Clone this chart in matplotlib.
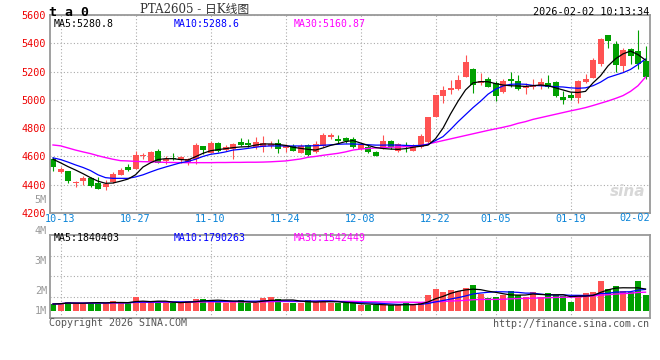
import numpy as np
import pandas as pd
import matplotlib
matplotlib.use("Agg")
import matplotlib.pyplot as plt

# PTA2605 daily candles, 2025-10-10 .. 2026-02-02
opens = [4580, 4490, 4495, 4415, 4424, 4448, 4410, 4382, 4419, 4471,
         4523, 4514, 4603, 4570, 4641, 4565, 4586, 4575, 4561, 4584,
         4674, 4627, 4697, 4645, 4650, 4702, 4697, 4668, 4669, 4674,
         4693, 4660, 4674, 4627, 4679, 4631, 4674, 4740, 4726, 4730,
         4726, 4650, 4669, 4631, 4655, 4707, 4641, 4674, 4641, 4665,
         4702, 4881, 5027, 5070, 5074, 5164, 5220, 5117, 5145, 5117,
         5055, 5150, 5131, 5084, 5088, 5105, 5119, 5128, 5020, 5034,
         5015, 5129, 5157, 5251, 5459, 5393, 5237, 5360, 5345, 5275]
highs = [4598, 4528, 4497, 4424, 4462, 4457, 4452, 4433, 4490, 4518,
         4547, 4636, 4627, 4640, 4650, 4603, 4627, 4603, 4590, 4693,
         4676, 4707, 4700, 4680, 4693, 4730, 4720, 4740, 4745, 4707,
         4721, 4688, 4688, 4688, 4688, 4707, 4768, 4763, 4754, 4740,
         4735, 4693, 4683, 4636, 4754, 4716, 4693, 4702, 4688, 4760,
         4880, 5035, 5097, 5140, 5173, 5320, 5225, 5187, 5159, 5131,
         5150, 5197, 5173, 5117, 5150, 5157, 5176, 5135, 5063, 5058,
         5138, 5181, 5298, 5435, 5462, 5416, 5369, 5365, 5492, 5379]
lows = [4499, 4481, 4414, 4382, 4400, 4386, 4370, 4363, 4415, 4467,
        4500, 4509, 4580, 4565, 4551, 4547, 4575, 4551, 4537, 4547,
        4617, 4622, 4630, 4640, 4584, 4675, 4670, 4655, 4631, 4660,
        4622, 4631, 4638, 4622, 4603, 4627, 4669, 4726, 4693, 4693,
        4660, 4645, 4627, 4600, 4650, 4655, 4631, 4631, 4636, 4660,
        4698, 4878, 4976, 5041, 5070, 5159, 5051, 5107, 5088, 4994,
        5050, 5093, 5070, 5041, 5075, 5077, 5081, 5020, 4969, 4997,
        4978, 5120, 5155, 5241, 5369, 5199, 5195, 5251, 5218, 5148]
closes = [4523, 4509, 4429, 4422, 4448, 4391, 4372, 4405, 4476, 4504,
          4504, 4608, 4608, 4630, 4556, 4584, 4582, 4594, 4580, 4683,
          4645, 4697, 4636, 4665, 4688, 4679, 4681, 4703, 4693, 4688,
          4655, 4674, 4641, 4674, 4613, 4688, 4754, 4749, 4712, 4712,
          4665, 4688, 4631, 4603, 4707, 4665, 4688, 4665, 4669, 4745,
          4877, 5032, 5070, 5084, 5140, 5268, 5107, 5135, 5093, 5027,
          5135, 5131, 5074, 5098, 5105, 5124, 5091, 5029, 5001, 5015,
          5133, 5148, 5284, 5430, 5416, 5246, 5355, 5312, 5251, 5162]

ma5 = [4580, 4555, 4528, 4504, 4478, 4450, 4425, 4410, 4412, 4425,
       4440, 4470, 4525, 4555, 4578, 4584, 4584, 4578, 4575, 4598,
       4622, 4640, 4648, 4655, 4662, 4667, 4669, 4680, 4688, 4688,
       4685, 4678, 4665, 4657, 4650, 4645, 4660, 4678, 4690, 4705,
       4712, 4695, 4678, 4663, 4656, 4652, 4650, 4655, 4665, 4672,
       4680, 4725, 4800, 4900, 4990, 5070, 5120, 5129, 5128, 5115,
       5105, 5100, 5098, 5095, 5100, 5105, 5100, 5085, 5070, 5055,
       5052, 5060, 5120, 5170, 5240, 5290, 5325, 5345, 5320, 5280.8]
ma10 = [4590, 4578, 4560, 4540, 4522, 4500, 4470, 4450, 4445, 4445,
        4445, 4455, 4470, 4490, 4509, 4525, 4540, 4555, 4565, 4580,
        4600, 4615, 4622, 4632, 4645, 4650, 4657, 4665, 4672, 4674,
        4674, 4674, 4674, 4674, 4674, 4676, 4679, 4682, 4686, 4688,
        4688, 4686, 4683, 4680, 4680, 4681, 4680, 4678, 4676, 4678,
        4685, 4712, 4740, 4790, 4845, 4895, 4945, 4990, 5040, 5075,
        5098, 5110, 5112, 5110, 5102, 5100, 5097, 5093, 5091, 5085,
        5082, 5085, 5100, 5125, 5158, 5175, 5192, 5215, 5250, 5288.6]
ma30 = [4681, 4675, 4660, 4645, 4632, 4620, 4605, 4592, 4580, 4570,
        4568, 4565, 4563, 4562, 4560, 4558, 4557, 4556, 4556, 4556,
        4556, 4556, 4557, 4557, 4558, 4558, 4559, 4559, 4560, 4562,
        4565, 4568, 4575, 4582, 4594, 4600, 4608, 4615, 4622, 4632,
        4645, 4652, 4656, 4660, 4663, 4665, 4667, 4669, 4672, 4675,
        4688, 4700, 4712, 4724, 4736, 4748, 4760, 4772, 4784, 4795,
        4806, 4818, 4834, 4846, 4862, 4874, 4886, 4898, 4910, 4922,
        4933, 4945, 4960, 4976, 4992, 5010, 5030, 5060, 5100, 5160.87]

# volume, millions of lots
volume = [0.59, 0.65, 0.79, 0.65, 0.65, 0.71, 0.76, 0.65, 0.85, 0.65,
          0.65, 1.19, 0.85, 0.65, 0.85, 0.65, 0.76, 0.65, 0.85, 1.02,
          1.02, 0.93, 0.79, 0.65, 0.85, 0.93, 0.65, 0.65, 1.10, 1.19,
          1.02, 0.71, 0.65, 0.65, 0.93, 0.85, 0.85, 0.65, 0.65, 0.65,
          0.65, 0.51, 0.51, 0.51, 0.51, 0.51, 0.51, 0.65, 0.51, 0.79,
          1.36, 1.89, 1.64, 1.78, 1.69, 1.95, 2.20, 1.44, 1.13, 1.21,
          1.36, 1.69, 1.36, 1.16, 1.64, 1.16, 1.55, 1.36, 1.24, 0.79,
          1.36, 1.55, 1.64, 2.54, 1.86, 2.12, 1.69, 1.61, 2.54, 1.36]

date_pos = [1, 11, 21, 31, 41, 51, 59, 69]
date_labels = ['10-13', '10-27', '11-10', '11-24', '12-08', '12-22', '01-05', '01-19']
last_label = '02-02'

o = np.array(opens, float); c = np.array(closes, float)
h = np.array(highs, float); l = np.array(lows, float)
x = np.arange(len(o))
RED, GREEN = '#ff5252', '#00a000'
cols = np.where(c >= o, RED, GREEN)
mono = 'DejaVu Sans Mono'
grid_kw = dict(color='#aaaaaa', linestyle=(0, (1, 2)), linewidth=0.8)

fig = plt.figure(figsize=(6.6, 3.6), dpi=100)
W, H = 660, 360
ax = fig.add_axes([50 / W, 1 - 213 / H, 600 / W, 198 / H])
axv = fig.add_axes([50 / W, 1 - 318 / H, 600 / W, 83 / H])

def ftext(px, py, s, **kw):
    fig.text(px / W, 1 - py / H, s, **kw)

# price panel
ax.vlines(x, l, h, colors=cols, linewidth=0.8, zorder=2)
ax.bar(x, np.maximum(np.abs(c - o), 4), bottom=np.minimum(o, c), width=0.8,
       color=cols, linewidth=0, zorder=2)
ax.plot(x, ma30, color='#ff00ff', lw=1, zorder=3)
ax.plot(x, ma10, color='#0000ff', lw=0.9, zorder=3)
ax.plot(x, ma5, color='black', lw=0.9, zorder=3)
ax.set_xlim(-0.4, 79.6)
ax.set_ylim(4200, 5600)
ax.set_yticks(range(4200, 5601, 200))
ax.tick_params(axis='y', length=0, pad=3, labelcolor='#ee0000', labelsize=7.3)
for t in ax.get_yticklabels():
    t.set_family(mono)
ax.set_xticks(date_pos)
ax.set_xticklabels(date_labels, family=mono, fontsize=7.3, color='#0a84d8')
ax.tick_params(axis='x', length=0, pad=1)
ax.grid(True, **grid_kw)
ax.set_axisbelow(True)
ax.text(79.6, 4200, last_label, transform=ax.transData, ha='right', va='top',
        family=mono, fontsize=7.3, color='#0a84d8')

# volume panel
vcol = np.where(c >= o, RED, GREEN)
axv.bar(x, volume, width=0.8, color=vcol, linewidth=0, zorder=2)
vs = pd.Series(volume)
axv.plot(x, vs.rolling(30, min_periods=1).mean(), color='#ff00ff', lw=1, zorder=3)
axv.plot(x, vs.rolling(10, min_periods=1).mean(), color='#0000ff', lw=0.9, zorder=3)
axv.plot(x, vs.rolling(5, min_periods=1).mean(), color='black', lw=0.9, zorder=3)
v_lo, v_hi = -0.59, 6.44
axv.set_xlim(-0.4, 79.6)
axv.set_ylim(v_lo, v_hi)
axv.set_yticks([v_lo + f * (v_hi - v_lo) for f in (0.25, 0.5, 0.75)])
axv.set_xticks(date_pos)
axv.tick_params(length=0, labelleft=False, labelbottom=False)
axv.grid(True, **grid_kw)
axv.set_axisbelow(True)

for a in (ax, axv):
    for s in a.spines.values():
        s.set_color('#999999')
        s.set_linewidth(1.3)

# texts
ftext(49, 12, 't a 0', family=mono, fontweight='bold', fontsize=9.5, va='center')
ftext(140, 10, 'PTA2605 - 日K线图', family=['DejaVu Serif', 'Noto Sans CJK SC'],
      fontsize=8.5, color='#333333', va='center')
ftext(649, 12, '2026-02-02 10:13:34', family=mono, fontsize=7.3, ha='right', va='center')
ftext(54, 24, 'MA5:5280.8', family=mono, fontsize=7.1, va='center')
ftext(174, 24, 'MA10:5288.6', family=mono, fontsize=7.1, va='center', color='#0000ff')
ftext(294, 24, 'MA30:5160.87', family=mono, fontsize=7.1, va='center', color='#ff00ff')
ftext(54, 238, 'MA5:1840403', family=mono, fontsize=7.1, va='center')
ftext(174, 238, 'MA10:1790263', family=mono, fontsize=7.1, va='center', color='#0000ff')
ftext(294, 238, 'MA30:1542449', family=mono, fontsize=7.1, va='center', color='#ff00ff')
for lab, py in [('5M', 200), ('4M', 231), ('3M', 261), ('2M', 291), ('1M', 311)]:
    ftext(47, py, lab, family=mono, fontsize=7.3, ha='right', va='center', color='#999999')
ftext(49, 323, 'Copyright 2026 SINA.COM', family=mono, fontsize=7.2, va='center', color='#555555')
ftext(649, 324, 'http://finance.sina.com.cn', family=mono, fontsize=7.2, ha='right',
      va='center', color='#555555')
ftext(628, 191, 'sina', fontsize=11, fontweight='bold', style='italic', ha='center',
      va='center', color='#d8d8d8')

fig.savefig('out.png', dpi=100)
